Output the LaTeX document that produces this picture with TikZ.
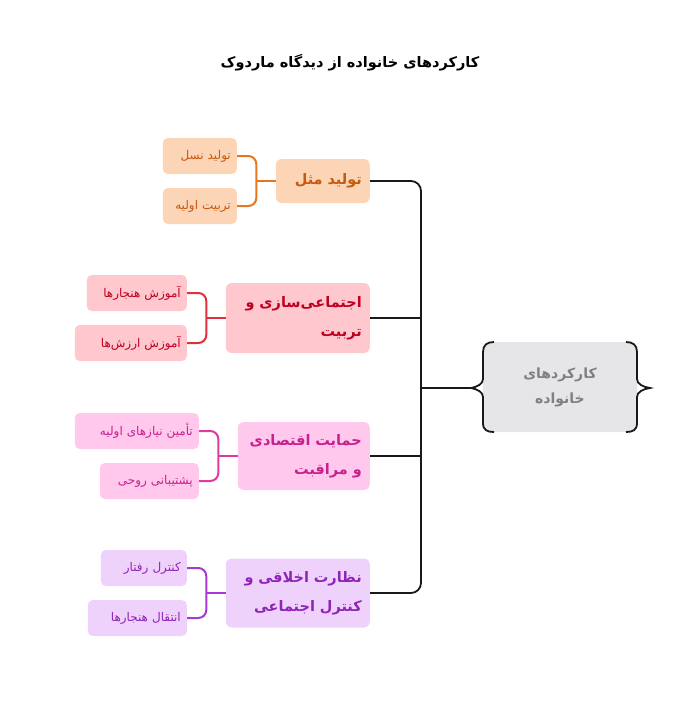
\documentclass[tikz,border=0pt]{standalone}
\usepackage{fontspec}
\newfontfamily\arabicfont[Script=Arabic]{DejaVu Sans}
\TeXXeTstate=1
\usetikzlibrary{calc}
\definecolor{rtfill}{HTML}{E6E6E9}
\definecolor{rttext}{HTML}{808080}
\definecolor{c1f}{HTML}{FCD5B6}
\definecolor{c1t}{HTML}{C55A11}
\definecolor{c1l}{HTML}{E8761E}
\definecolor{c2f}{HTML}{FFC7CE}
\definecolor{c2t}{HTML}{C00020}
\definecolor{c2l}{HTML}{E0303A}
\definecolor{c3f}{HTML}{FFC8EC}
\definecolor{c3t}{HTML}{C8208E}
\definecolor{c3l}{HTML}{E03A9E}
\definecolor{c4f}{HTML}{EFD2FB}
\definecolor{c4t}{HTML}{8E24B8}
\definecolor{c4l}{HTML}{A638D4}
\tikzstyle{rt}=[fill=rtfill,rounded corners=8pt,minimum width=154pt,minimum height=90pt,align=center,text=rttext,font=\arabicfont\bfseries\fontsize{14}{25}\selectfont]
\tikzstyle{br}=[rounded corners=6pt,anchor=east,inner xsep=8pt,align=right,font=\arabicfont\bfseries\fontsize{14.5}{29}\selectfont]
\tikzstyle{lf}=[rounded corners=5pt,anchor=east,inner xsep=6pt,minimum height=36pt,align=right,font=\arabicfont\fontsize{12}{14}\selectfont]
\tikzstyle{cn}=[line width=2pt,rounded corners=8pt]
\tikzstyle{trk}=[line width=1.8pt,draw=black!90,rounded corners=10pt]

\begin{document}
\begin{tikzpicture}[x=1pt,y=-1pt]
\useasboundingbox (0,0) rectangle (700,725);
\node[font=\arabicfont\bfseries\fontsize{14.5}{16}\selectfont] (title) at (350,63) {\beginR کارکردهای خانواده از دیدگاه ماردوک\endR};
% center
\node[rt] (fam) at (560,387) {\beginR کارکردهای\endR\\\beginR خانواده\endR};
\draw[line width=1.8pt,draw=black!90] (494,342) .. controls (487,342) and (483,345) .. (483,352) -- (483,379) .. controls (483,384) and (477,387) .. (471,388) .. controls (477,389) and (483,392) .. (483,397) -- (483,423) .. controls (483,430) and (487,432) .. (494,432);
\draw[line width=1.8pt,draw=black!90] (626,342) .. controls (633,342) and (637,345) .. (637,352) -- (637,379) .. controls (637,384) and (643,387) .. (650,388) .. controls (643,389) and (637,392) .. (637,397) -- (637,423) .. controls (637,430) and (633,432) .. (626,432);
\coordinate (tip) at (471,388);
% branches
\node[br,fill=c1f,text=c1t,text width=78pt,minimum height=44pt] (b1) at (370,181) {\beginR تولید مثل\endR};
\node[br,fill=c2f,text=c2t,text width=128pt,minimum height=70pt] (b2) at (370,318) {\beginR اجتماعی‌سازی و\endR\\\beginR تربیت\endR};
\node[br,fill=c3f,text=c3t,text width=116pt,minimum height=68pt] (b3) at (370,456) {\beginR حمایت اقتصادی\endR\\\beginR و مراقبت\endR};
\node[br,fill=c4f,text=c4t,text width=128pt,minimum height=69pt] (b4) at (370,593) {\beginR نظارت اخلاقی و\endR\\\beginR کنترل اجتماعی\endR};
% leaves
\node[lf,fill=c1f,text=c1t,text width=62pt] (l1a) at (237,156) {\beginR تولید نسل\endR};
\node[lf,fill=c1f,text=c1t,text width=62pt] (l1b) at (237,206) {\beginR تربیت اولیه\endR};
\node[lf,fill=c2f,text=c2t,text width=88pt] (l2a) at (187,293) {\beginR آموزش هنجارها\endR};
\node[lf,fill=c2f,text=c2t,text width=100pt] (l2b) at (187,343) {\beginR آموزش ارزش‌ها\endR};
\node[lf,fill=c3f,text=c3t,text width=112pt] (l3a) at (199,431) {\beginR تأمین نیازهای اولیه\endR};
\node[lf,fill=c3f,text=c3t,text width=87pt] (l3b) at (199,481) {\beginR پشتیبانی روحی\endR};
\node[lf,fill=c4f,text=c4t,text width=74pt] (l4a) at (187,568) {\beginR کنترل رفتار\endR};
\node[lf,fill=c4f,text=c4t,text width=87pt] (l4b) at (187,618) {\beginR انتقال هنجارها\endR};
% trunk
\coordinate (tk) at (421,388);
\draw[trk] (b1.east) -| (tk) |- (b4.east);
\draw[trk] (b2.east) -- (b2.east -| tk);
\draw[trk] (b3.east) -- (b3.east -| tk);
\draw[trk] (tk) -- (tip);
% sub connectors
\coordinate (j1) at ($(b1.west)!.5!(b1.west -| l1a.east)$);
\coordinate (j2) at ($(b2.west)!.5!(b2.west -| l2a.east)$);
\coordinate (j3) at ($(b3.west)!.5!(b3.west -| l3a.east)$);
\coordinate (j4) at ($(b4.west)!.5!(b4.west -| l4a.east)$);
\draw[cn,draw=c1l] (l1a.east) -| (j1) |- (l1b.east);
\draw[cn,draw=c1l] (b1.west) -- (j1);
\draw[cn,draw=c2l] (l2a.east) -| (j2) |- (l2b.east);
\draw[cn,draw=c2l] (b2.west) -- (j2);
\draw[cn,draw=c3l] (l3a.east) -| (j3) |- (l3b.east);
\draw[cn,draw=c3l] (b3.west) -- (j3);
\draw[cn,draw=c4l] (l4a.east) -| (j4) |- (l4b.east);
\draw[cn,draw=c4l] (b4.west) -- (j4);
\end{tikzpicture}
\end{document}
